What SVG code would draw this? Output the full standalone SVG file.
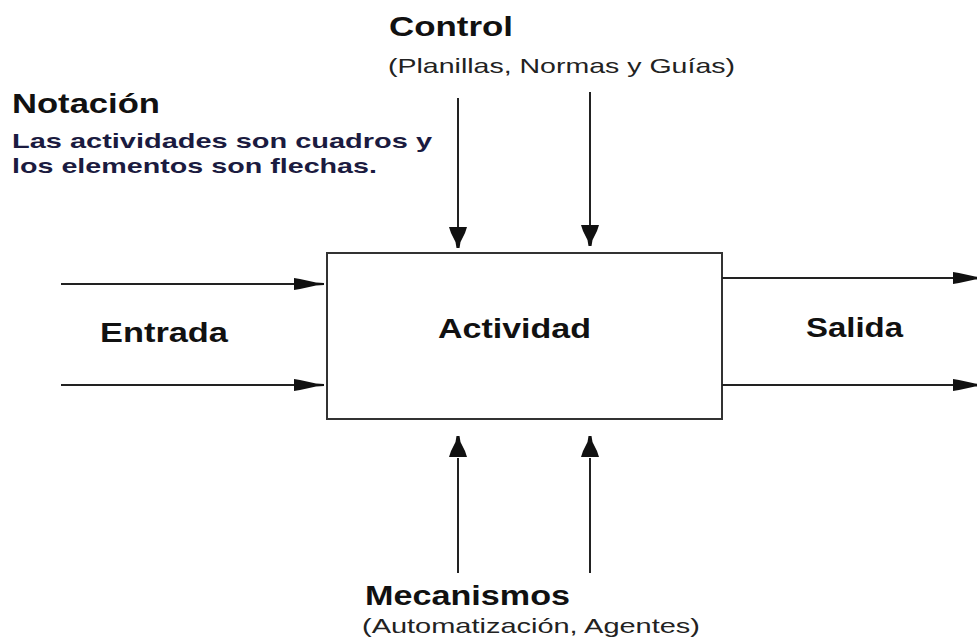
<svg xmlns="http://www.w3.org/2000/svg" xmlns:xlink="http://www.w3.org/1999/xlink" width="977" height="640" viewBox="0 0 977 640">
  <style>
    .b { font-family: "Liberation Sans", Arial, sans-serif; font-weight: bold; fill: #111; }
    .r { font-family: "Liberation Sans", Arial, sans-serif; fill: #222; }
    .n { font-family: "Liberation Sans", Arial, sans-serif; font-weight: bold; fill: #1b1b40; }
    .ln { stroke: #222; stroke-width: 2; fill: none; }
    .ah { fill: #111; }
  </style>
  <defs>
    <path id="ahRight" class="ah" d="M-30,-6 L-24,-5 L-8,-1.5 L0,-1 L0,1 L-8,1.5 L-24,5 L-30,6 Z"/>
    <path id="ahDown" class="ah" d="M-9,-21 L9,-21 L7,-15 L2.5,-6 L1.5,0 L-1.5,0 L-2.5,-6 L-7,-15 Z"/>
  </defs>
  <rect width="977" height="640" fill="#fff"/>

  <g id="notacion">
    <text class="b" x="12" y="113" font-size="27" textLength="148" lengthAdjust="spacingAndGlyphs">Notación</text>
    <text class="n" x="12" y="148" font-size="21" textLength="420" lengthAdjust="spacingAndGlyphs">Las actividades  son cuadros y</text>
    <text class="n" x="12" y="173" font-size="21" textLength="365" lengthAdjust="spacingAndGlyphs">los elementos  son flechas.</text>
  </g>

  <g id="control">
    <text class="b" x="389" y="36" font-size="27" textLength="124" lengthAdjust="spacingAndGlyphs">Control</text>
    <text class="r" x="388" y="73" font-size="21" textLength="347" lengthAdjust="spacingAndGlyphs">(Planillas, Normas y Guías)</text>
  </g>

  <g id="actividad">
    <rect x="327" y="253" width="395" height="166" fill="#fff" stroke="#333" stroke-width="2"/>
    <text class="b" x="438" y="338" font-size="27" textLength="153" lengthAdjust="spacingAndGlyphs">Actividad</text>
  </g>

  <g id="entrada">
    <text class="b" x="100" y="342" font-size="27" textLength="128" lengthAdjust="spacingAndGlyphs">Entrada</text>
  </g>

  <g id="salida">
    <text class="b" x="806" y="337" font-size="27" textLength="97" lengthAdjust="spacingAndGlyphs">Salida</text>
  </g>

  <g id="mecanismos">
    <text class="b" x="365" y="605" font-size="27" textLength="205" lengthAdjust="spacingAndGlyphs">Mecanismos</text>
    <text class="r" x="362" y="633" font-size="21" textLength="338" lengthAdjust="spacingAndGlyphs">(Automatización, Agentes)</text>
  </g>

  <g id="connectors">
    <!-- Control inputs -->
    <line class="ln" x1="458" y1="98" x2="458" y2="230"/>
    <use xlink:href="#ahDown" transform="translate(458,248)"/>
    <line class="ln" x1="590" y1="92" x2="590" y2="228"/>
    <use xlink:href="#ahDown" transform="translate(590,246)"/>
    <!-- Entradas -->
    <line class="ln" x1="61" y1="284" x2="300" y2="284"/>
    <use xlink:href="#ahRight" transform="translate(324,284)"/>
    <line class="ln" x1="61" y1="385" x2="300" y2="385"/>
    <use xlink:href="#ahRight" transform="translate(324,385)"/>
    <!-- Salidas -->
    <line class="ln" x1="722" y1="278" x2="960" y2="278"/>
    <use xlink:href="#ahRight" transform="translate(983,278)"/>
    <line class="ln" x1="722" y1="385" x2="960" y2="385"/>
    <use xlink:href="#ahRight" transform="translate(983,385)"/>
    <!-- Mecanismos -->
    <line class="ln" x1="458" y1="573" x2="458" y2="458"/>
    <use xlink:href="#ahDown" transform="translate(458,436) scale(1,-1)"/>
    <line class="ln" x1="590" y1="573" x2="590" y2="458"/>
    <use xlink:href="#ahDown" transform="translate(590,436) scale(1,-1)"/>
  </g>
</svg>
